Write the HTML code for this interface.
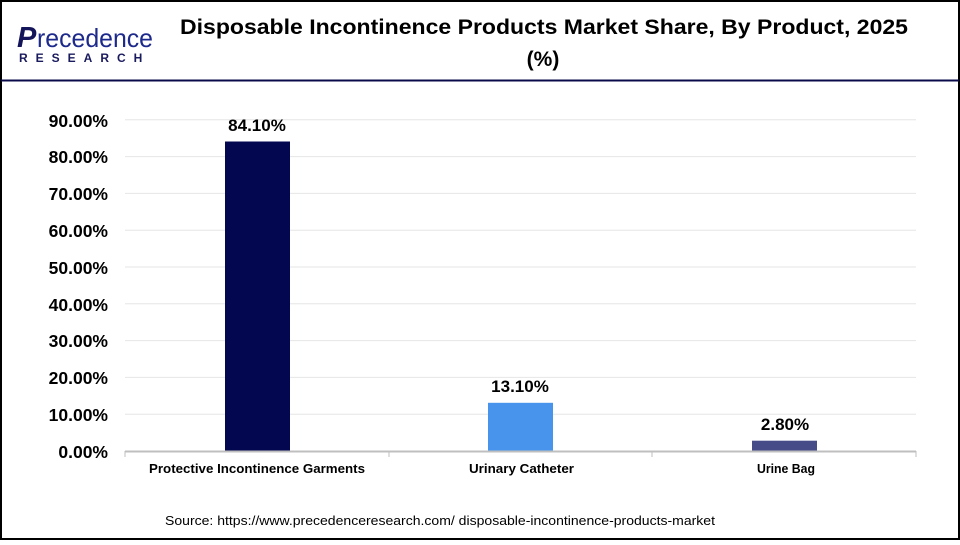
<!DOCTYPE html>
<html><head><meta charset="utf-8"><style>
body{margin:0;width:960px;height:540px;background:#fff;font-family:"Liberation Sans",Arial,sans-serif;overflow:hidden}
</style></head><body>
<svg width="960" height="540" xmlns="http://www.w3.org/2000/svg" font-family="Liberation Sans, Arial, sans-serif">
<rect x="1" y="1" width="958" height="538" fill="#fff" stroke="#000" stroke-width="2"/>
<line x1="1" y1="80.5" x2="959" y2="80.5" stroke="#0a0a4a" stroke-width="2"/>
<!-- logo -->
<text x="17" y="47" font-size="29" fill="#14145a" font-weight="bold" font-style="italic">P</text>
<text x="37" y="47" font-size="26" fill="#1d2a8c" textLength="116" lengthAdjust="spacingAndGlyphs">recedence</text>
<text x="19" y="62" font-size="12" fill="#1a1a5e" font-weight="bold" letter-spacing="8">RESEARCH</text>
<!-- title -->
<text x="180" y="34" font-size="21" font-weight="bold" fill="#000" textLength="728" lengthAdjust="spacingAndGlyphs">Disposable Incontinence Products Market Share, By Product, 2025</text>
<text x="543" y="66" font-size="21" font-weight="bold" text-anchor="middle" fill="#000">(%)</text>
<!-- grid -->
<g stroke="#e6e6e6" stroke-width="1">
<line x1="125" y1="414.2" x2="916" y2="414.2"/><line x1="125" y1="377.4" x2="916" y2="377.4"/>
<line x1="125" y1="340.6" x2="916" y2="340.6"/><line x1="125" y1="303.8" x2="916" y2="303.8"/>
<line x1="125" y1="267" x2="916" y2="267"/><line x1="125" y1="230.2" x2="916" y2="230.2"/>
<line x1="125" y1="193.4" x2="916" y2="193.4"/><line x1="125" y1="156.6" x2="916" y2="156.6"/>
<line x1="125" y1="119.8" x2="916" y2="119.8"/>
</g>
<g font-size="17.5" font-weight="bold" text-anchor="end" fill="#000">
<text x="108" y="458">0.00%</text><text x="108" y="421">10.00%</text><text x="108" y="384">20.00%</text>
<text x="108" y="347">30.00%</text><text x="108" y="311">40.00%</text><text x="108" y="274">50.00%</text>
<text x="108" y="237">60.00%</text><text x="108" y="200">70.00%</text><text x="108" y="163">80.00%</text>
<text x="108" y="127">90.00%</text>
</g>
<rect x="225" y="141.5" width="65" height="309.5" fill="#03074f"/>
<rect x="488" y="402.8" width="65" height="48.2" fill="#4894ec"/>
<rect x="752" y="440.7" width="65" height="10.3" fill="#454c88"/>
<line x1="125" y1="451.5" x2="916" y2="451.5" stroke="#bfbfbf" stroke-width="2"/>
<g stroke="#bfbfbf"><line x1="125" y1="451" x2="125" y2="457"/><line x1="389" y1="451" x2="389" y2="457"/><line x1="652" y1="451" x2="652" y2="457"/><line x1="916" y1="451" x2="916" y2="457"/></g>
<g font-size="17" font-weight="bold" text-anchor="middle" fill="#000">
<text x="257" y="131">84.10%</text><text x="520" y="392">13.10%</text><text x="785" y="430">2.80%</text>
</g>
<g font-size="13" font-weight="bold" fill="#000">
<text x="149" y="473" textLength="216" lengthAdjust="spacingAndGlyphs">Protective Incontinence Garments</text>
<text x="469" y="473" textLength="105" lengthAdjust="spacingAndGlyphs">Urinary Catheter</text>
<text x="757" y="473" textLength="58" lengthAdjust="spacingAndGlyphs">Urine Bag</text>
</g>
<text x="165" y="525" font-size="13" fill="#000" textLength="550" lengthAdjust="spacingAndGlyphs">Source: https://www.precedenceresearch.com/ disposable-incontinence-products-market</text>
</svg>
</body></html>
